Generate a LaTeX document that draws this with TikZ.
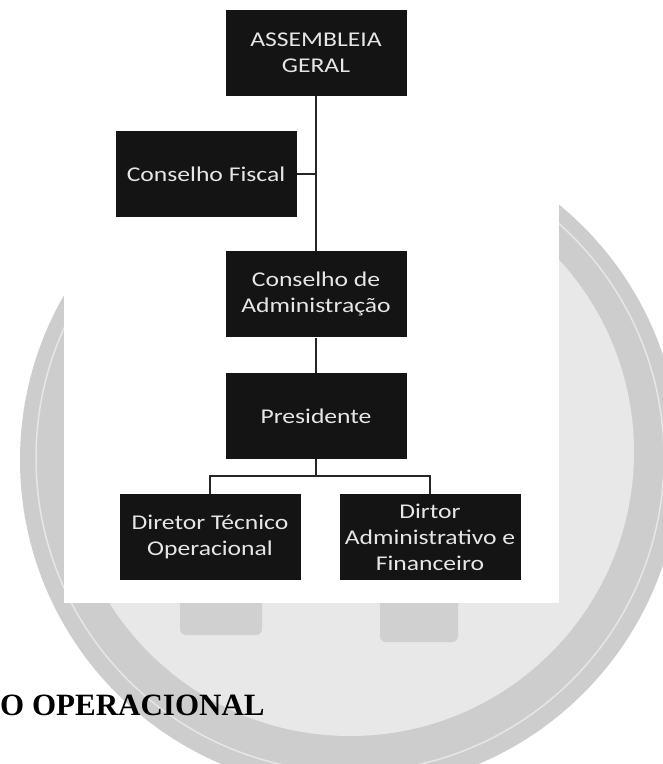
\documentclass[tikz,border=0pt]{standalone}
\usepackage{fontspec}
\usepackage{xcolor}
\usepackage{tikz}
\usetikzlibrary{positioning}
\newfontfamily\boxfont[FakeStretch=1.22]{Carlito}
\newfontfamily\titlefont{Liberation Serif}
\definecolor{boxfill}{HTML}{141414}
\definecolor{boxtext}{HTML}{E6E6E6}
\definecolor{ringgray}{HTML}{CDCDCD}
\definecolor{discgray}{HTML}{E8E8E8}
\definecolor{footgray}{HTML}{D0D0D0}

\begin{document}
\begin{tikzpicture}[
x=1pt, y=-1pt,
node distance=35pt,
box/.style={fill=boxfill, text=boxtext, align=center, minimum width=181pt, minimum height=86pt, inner sep=0pt, font=\boxfont\fontsize{21}{26}\selectfont},
conn/.style={draw=black!85, line width=1.2pt}
]
\useasboundingbox (0,0) rectangle (663,764);
\clip (0,0) rectangle (663,764);
\fill[ringgray] (350,460) circle (330pt);
\draw[white, line width=1.5pt, opacity=.5] (350,458) circle (314pt);
\fill[discgray] (350,452) circle (284pt);
\fill[footgray, rounded corners=6pt] (180,560) rectangle (262,635);
\fill[footgray, rounded corners=6pt] (380,560) rectangle (458,642);
\fill[white] (64,0) rectangle (559,603);

\node[box] (ag) at (316,53) {ASSEMBLEIA\\GERAL};
\node[box] (cf) at (206,174) {Conselho Fiscal};
\node[box, below=155pt of ag] (ca) {Conselho de\\Administração};
\node[box, below=of ca] (pres) {Presidente};
\node[box, below=of pres, xshift=-106pt] (dtec) {Diretor Técnico\\Operacional};
\node[box, below=of pres, xshift=114pt] (dadm) {Dirtor\\Administrativo e\\Financeiro};
\coordinate (fork) at ([yshift=-17pt]pres.south);

\draw[conn] (ag)--(ca);
\draw[conn] (cf.east)--(cf.east -| ag.south);
\draw[conn] (ca)--(pres);
\draw[conn] (pres)--(fork);
\draw[conn] (dtec.north) |- (fork) -| (dadm.north);

\node[anchor=base west, inner sep=0pt, font=\titlefont\bfseries\fontsize{31}{36}\selectfont] (titulo) at (0,715) {O OPERACIONAL};
\end{tikzpicture}
\end{document}
